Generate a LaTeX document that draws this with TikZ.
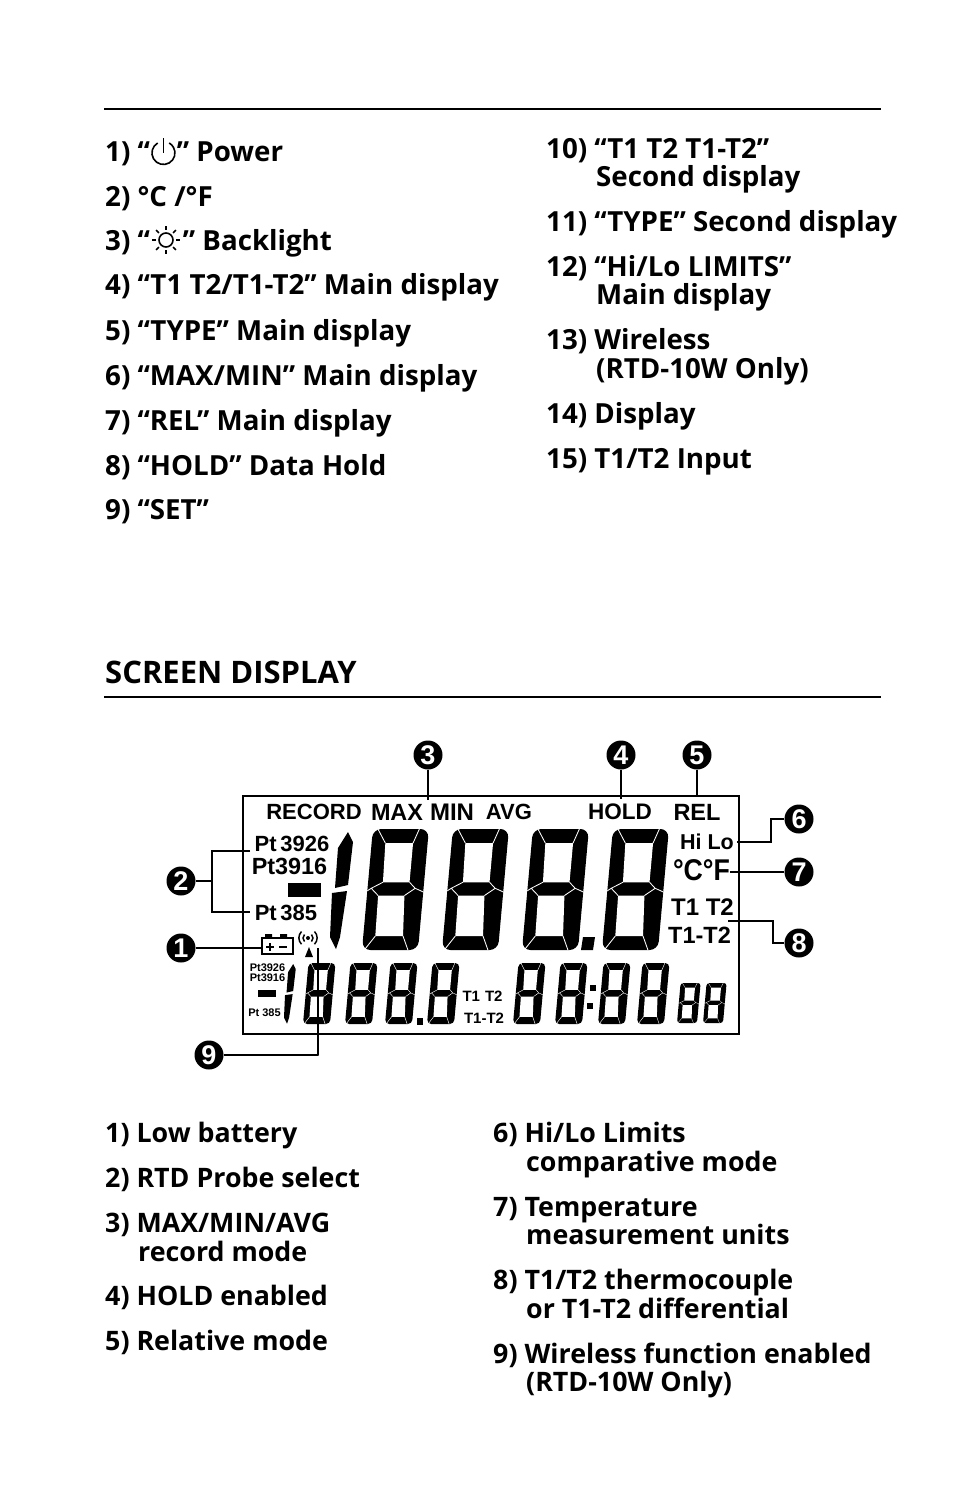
\documentclass[tikz,border=0pt]{standalone}
\usepackage{fontspec}
\setmainfont{Open Sans}
\newfontfamily\lcdfont{Liberation Sans}
\usepackage{tikz}

\tikzset{
  listtext/.style={anchor=base west,inner sep=0pt,yshift=.5pt,font=\bfseries\fontsize{27.7}{28}\selectfont},
  screentext/.style={listtext,font=\bfseries\fontsize{26.8}{28}\selectfont},
  lcdbold/.style={inner sep=0pt,font=\lcdfont\bfseries\fontsize{#1}{#1}\selectfont},
  callout/.style={circle,fill=black,text=white,inner sep=0pt,minimum size=29pt,font=\lcdfont\bfseries\fontsize{27}{27}\selectfont},
  lead/.style={line width=2.5pt},
  rulerline/.style={line width=2pt}
}
% one digit: left end of the bottom edge, top edge, width, height
\newcommand{\lcddigit}[4]{
  \begin{scope}[shift={({#1+.09*#4},#2)},xslant=.09,x=#3pt,y=-#4pt]
    \fill[rounded corners={#4*.07pt}] (0,0) rectangle (1,1);
    \fill[white] (.245,.116) -- (.74,.116) -- (.74,.44) -- (.265,.44) -- cycle;
    \fill[white] (.2,.55) -- (.67,.55) -- (.71,.885) -- (.215,.885) -- cycle;
    \draw[white,line width={#4*.007pt}] (.245,.116) -- (.09,0) (.74,.116) -- (.83,0) (.215,.885) -- (.04,1) (.71,.885) -- (.82,1);
    \draw[white,line width={#4*.007pt}] (.265,.44) -- (.066,.49) -- (.2,.55) (.74,.44) -- (.85,.49) -- (.67,.55) (0,.51) -- (.066,.49) (.85,.49) -- (1,.52);
  \end{scope}
}
% the leading 1: left end, top edge, scale
\newcommand{\lcdone}[3]{
  \begin{scope}[shift={(#1,#2)},scale=#3]
    \fill (18,0) -- (23,10) -- (18,53) -- (5,56) -- (8,16) -- cycle;
    \fill (2,61) -- (17,59) -- (10,105) -- (6,117) -- (0,105) -- cycle;
  \end{scope}
}

\begin{document}
\begin{tikzpicture}[x=1pt,y=-1pt]
\useasboundingbox (0,0) rectangle (954,1505);

\draw[rulerline] (104,109) -- (881,109);
\draw[rulerline] (104,697) -- (881,697);

% list of controls
\foreach \y/\t [count=\i] in {162/{1) “\hspace{27pt}” Power},207/{2) °C /°F},251/{3) “\hspace{33pt}” Backlight},295/{4) “T1 T2/T1-T2” Main display},341/{5) “TYPE” Main display},386/{6) “MAX/MIN” Main display},431/{7) “REL” Main display},476/{8) “HOLD” Data Hold},520/{9) “SET”}}
  \node[listtext] (ctrl\i) at (105,\y) {\t};
\foreach \y/\t [count=\i] in {159/{10) “T1 T2 T1-T2”},187/{\hspace{50pt}Second display},232/{11) “TYPE” Second display},277/{12) “Hi/Lo LIMITS”},305/{\hspace{50pt}Main display},350/{13) Wireless},379/{\hspace{50pt}(RTD-10W Only)},424/{14) Display},469/{15) T1/T2 Input}}
  \node[listtext] (ctrr\i) at (546,\y) {\t};

% power and backlight signs
\draw[line width=1.6pt] (157.7,143) arc (120:420:11.5pt);
\draw[line width=1.6pt] (163.5,138) -- (163.5,153);
\draw[line width=1.6pt] (166,240) circle (7pt);
\foreach \a in {0,45,...,315}
  \draw[line width=1.6pt] (166,240) ++(\a:10pt) -- ++(\a:4pt);

\node[listtext,font=\bfseries\fontsize{31}{32}\selectfont] (head) at (105,684) {SCREEN DISPLAY};

% screen
\draw[line width=2.5pt] (243,796) rectangle (739,1034);
\node[lcdbold=22] (record) at (314,812) {RECORD};
\node[lcdbold=23.4] (max) at (397,812) {MAX};
\node[lcdbold=24] (min) at (452,812) {MIN};
\node[lcdbold=22] (avg) at (509,812) {AVG};
\node[lcdbold=22.5] (hold) at (620,812) {HOLD};
\node[lcdbold=23.5] (rel) at (697,812) {REL};
\node[lcdbold=22] (pta) at (292,844) {Pt\,3926};
\node[lcdbold=23.4] (ptb) at (289.5,866) {Pt3916};
\fill (288,883) rectangle (321,897);
\node[lcdbold=22] (ptc) at (286,913) {Pt\,385};
\node[lcdbold=21.5] (hilo) at (707,842) {Hi Lo};
\node[lcdbold=30,xscale=.89,transform shape] (unit) at (701.5,870) {°C°F};
\node[lcdbold=24] (tta) at (702.5,907) {T1 T2};
\node[lcdbold=23.5] (ttb) at (699.5,935) {T1-T2};
\node[lcdbold=11] (ptd) at (267.5,968) {Pt3926};
\node[lcdbold=11] (pte) at (267.5,978) {Pt3916};
\fill (258,990) rectangle (276,997);
\node[lcdbold=11] (ptf) at (264.5,1013) {Pt 385};
\node[lcdbold=15] (ttc) at (482.5,996) {T1\,\,T2};
\node[lcdbold=15] (ttd) at (484,1018) {T1-T2};

% digits
\lcdone{330}{832}{1}
\foreach \x in {362,442,522,602} {
  \lcddigit{\x}{829}{56}{121}
}
\fill (583,937) -- (595,937) -- (593,950) -- (581,950) -- cycle;
\lcdone{284}{964}{.51}
\foreach \x in {303,345,385,427,513,555,598,637} {
  \lcddigit{\x}{963}{27}{61}
}
\fill (417,1018) rectangle (423,1025);
\fill (590,985) rectangle (596,991);
\fill (587,1003) rectangle (593,1009);
\foreach \x in {677,703} {
  \lcddigit{\x}{983}{20}{40}
}

% battery and antenna
\node[draw,line width=2pt,minimum width=31pt,minimum height=16pt,inner sep=0pt] (bat) at (277.5,946) {};
\fill (265,934) rectangle (272,938) (280,934) rectangle (287,938);
\draw[line width=2.4pt] (266,947) -- (274,947) (270,943) -- (270,951) (279,947) -- (287,947);
\fill (308,938) circle (2pt);
\draw[line width=1.5pt] (304.5,934.5) arc (135:225:5pt) (311.5,934.5) arc (45:-45:5pt);
\draw[line width=1.5pt] (301.5,931.5) arc (135:225:9pt) (314.5,931.5) arc (45:-45:9pt);
\fill (309,947) -- (313,957) -- (305,957) -- cycle;

% callouts
\node[callout] (c1) at (181,948) {1};
\node[callout] (c2) at (181,881) {2};
\node[callout] (c3) at (428,755) {3};
\node[callout] (c4) at (621,755) {4};
\node[callout] (c5) at (697,755) {5};
\node[callout] (c6) at (799,819) {6};
\node[callout] (c7) at (799,872) {7};
\node[callout] (c8) at (799,943) {8};
\node[callout] (c9) at (209,1055) {9};
\coordinate (e2a) at (250,851);
\coordinate (e2b) at (250,912);
\coordinate (e3) at (428,800);
\coordinate (e4) at (621,799);
\coordinate (e5) at (697,797);
\coordinate (e6) at (737,842);
\coordinate (e7) at (730,872);
\coordinate (e8) at (728,921);
\coordinate (e9) at (318,948);
\draw[lead] (c1) -- (c1 -| bat.west);
\draw[lead] (c2) -- (212,881);
\draw[lead] (e2a) -| (212,881) |- (e2b);
\draw[lead] (c3) -- (e3);
\draw[lead] (c4) -- (e4);
\draw[lead] (c5) -- (e5);
\draw[lead] (c6) -- ++(-28,0) |- (e6);
\draw[lead] (c7) -- (e7);
\draw[lead] (c8) -- ++(-26,0) |- (e8);
\draw[lead] (c9.east) -- ++(95,0) -| (e9);

% list of screen items
\foreach \y/\t [count=\i] in {1143/{1) Low battery},1188/{2) RTD Probe select},1233/{3) MAX/MIN/AVG},1262/{\hspace{33pt}record mode},1306/{4) HOLD enabled},1351/{5) Relative mode}}
  \node[screentext] (scrl\i) at (105,\y) {\t};
\foreach \y/\t [count=\i] in {1143/{6) Hi/Lo Limits},1172/{\hspace{33pt}comparative mode},1217/{7) Temperature},1245/{\hspace{33pt}measurement units},1290/{8) T1/T2 thermocouple},1319/{\hspace{33pt}or T1-T2 differential},1364/{9) Wireless function enabled},1392/{\hspace{33pt}(RTD-10W Only)}}
  \node[screentext] (scrr\i) at (493,\y) {\t};
\end{tikzpicture}
\end{document}
